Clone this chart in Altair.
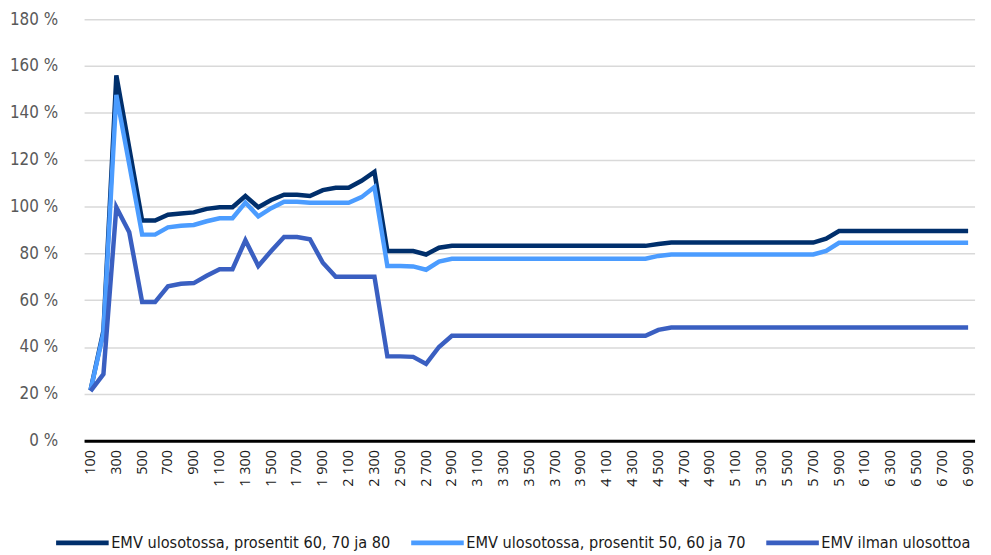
import altair as alt
import pandas as pd

categories = [
    "100", "200", "300", "400", "500", "600", "700", "800", "900", "1 000",
    "1 100", "1 200", "1 300", "1 400", "1 500", "1 600", "1 700", "1 800", "1 900", "2 000",
    "2 100", "2 200", "2 300", "2 400", "2 500", "2 600", "2 700", "2 800", "2 900", "3 000",
    "3 100", "3 200", "3 300", "3 400", "3 500", "3 600", "3 700", "3 800", "3 900", "4 000",
    "4 100", "4 200", "4 300", "4 400", "4 500", "4 600", "4 700", "4 800", "4 900", "5 000",
    "5 100", "5 200", "5 300", "5 400", "5 500", "5 600", "5 700", "5 800", "5 900", "6 000",
    "6 100", "6 200", "6 300", "6 400", "6 500", "6 600", "6 700", "6 800", "6 900",
]

tick_labels = [
    "100", "300", "500", "700", "900", "1 100", "1 300", "1 500", "1 700", "1 900",
    "2 100", "2 300", "2 500", "2 700", "2 900", "3 100", "3 300", "3 500", "3 700", "3 900",
    "4 100", "4 300", "4 500", "4 700", "4 900", "5 100", "5 300", "5 500", "5 700", "5 900",
    "6 100", "6 300", "6 500", "6 700", "6 900",
]

series_names = [
    "EMV ulosotossa, prosentit 60, 70 ja 80",
    "EMV ulosotossa, prosentit 50, 60 ja 70",
    "EMV ilman ulosottoa",
]
series_colors = ["#002f6c", "#4b9cff", "#3a5fc1"]

dark = [
    21.5, 47, 156, 125, 94, 94, 96.5, 97, 97.5, 99,
    99.7, 99.7, 104.5, 99.7, 102.8, 105, 105, 104.5, 107, 108,
    108, 111, 114.8, 81, 81, 81, 79.5, 82.4, 83.2, 83.2,
    83.2, 83.2, 83.2, 83.2, 83.2, 83.2, 83.2, 83.2, 83.2, 83.2,
    83.2, 83.2, 83.2, 83.2, 84, 84.6, 84.6, 84.6, 84.6, 84.6,
    84.6, 84.6, 84.6, 84.6, 84.6, 84.6, 84.6, 86.3, 89.5, 89.5,
    89.5, 89.5, 89.5, 89.5, 89.5, 89.5, 89.5, 89.5, 89.5,
]

light = [
    21.5, 46, 147.7, 118, 88, 88, 91.1, 91.8, 92.1, 93.7,
    95, 95, 101.7, 95.8, 99.3, 102, 102, 101.6, 101.6, 101.6,
    101.6, 104, 108.3, 74.6, 74.6, 74.4, 73, 76.5, 77.7, 77.7,
    77.7, 77.7, 77.7, 77.7, 77.7, 77.7, 77.7, 77.7, 77.7, 77.7,
    77.7, 77.7, 77.7, 77.7, 78.9, 79.5, 79.5, 79.5, 79.5, 79.5,
    79.5, 79.5, 79.5, 79.5, 79.5, 79.5, 79.5, 81, 84.5, 84.5,
    84.5, 84.5, 84.5, 84.5, 84.5, 84.5, 84.5, 84.5, 84.5,
]

third = [
    21.2, 28.4, 99.7, 89, 59.2, 59.2, 65.9, 67, 67.3, 70.4,
    73.2, 73.2, 85.6, 74.6, 81, 87, 87, 86, 76, 70,
    70, 70, 70, 36, 36, 35.8, 32.8, 40, 44.8, 44.8,
    44.8, 44.8, 44.8, 44.8, 44.8, 44.8, 44.8, 44.8, 44.8, 44.8,
    44.8, 44.8, 44.8, 44.8, 47.3, 48.3, 48.3, 48.3, 48.3, 48.3,
    48.3, 48.3, 48.3, 48.3, 48.3, 48.3, 48.3, 48.3, 48.3, 48.3,
    48.3, 48.3, 48.3, 48.3, 48.3, 48.3, 48.3, 48.3, 48.3,
]

y_ticks = [0, 20, 40, 60, 80, 100, 120, 140, 160, 180]

rows = []
for name, vals in zip(series_names, [dark, light, third]):
    for c, v in zip(categories, vals):
        rows.append({"cat": c, "value": v, "series": name})
df = pd.DataFrame(rows)

narrow = "Liberation Sans Narrow, DejaVu Sans Condensed, sans-serif"

chart = (
    alt.Chart(df)
    .mark_line(strokeWidth=4.5)
    .encode(
        x=alt.X(
            "cat:O",
            sort=categories,
            title=None,
            scale=alt.Scale(domain=categories, range=[6.7, 904.5]),
            axis=alt.Axis(
                values=tick_labels,
                labelAngle=270,
                labelAlign="right",
                labelBaseline="middle",
                labelFont="Open Sans",
                labelFontSize=14.5,
                labelColor="#1a1a1a",
                labelPadding=9,
                ticks=False,
                domainColor="#000000",
                domainWidth=3,
                grid=False,
                labelOverlap=False,
            ),
        ),
        y=alt.Y(
            "value:Q",
            title=None,
            scale=alt.Scale(domain=[0, 180], nice=False),
            axis=alt.Axis(
                values=y_ticks,
                labelExpr="datum.value + ' %'",
                labelFont=narrow,
                labelFontSize=17,
                labelColor="#595959",
                labelPadding=20,
                ticks=False,
                domain=False,
                grid=True,
                gridColor="#d9d9d9",
                gridWidth=1.5,
            ),
        ),
        color=alt.Color(
            "series:N",
            scale=alt.Scale(domain=series_names, range=series_colors),
            legend=alt.Legend(
                title=None,
                orient="none",
                direction="horizontal",
                legendX=-24,
                legendY=499,
                symbolType="stroke",
                symbolSize=2809,
                symbolStrokeWidth=5,
                labelFont=narrow,
                labelFontSize=16.3,
                labelColor="#1a1a1a",
                labelOffset=0,
                columnPadding=10,
                labelLimit=400,
            ),
        ),
        order=alt.Order("series:N"),
    )
    .properties(
        width=913,
        height=425,
        autosize=alt.AutoSizeParams(type="none"),
        padding={"left": 70, "top": 9, "right": 0, "bottom": 113},
    )
    .configure_view(stroke=None)
)

chart.save("out.html", embed_options={"renderer": "svg", "actions": False})
